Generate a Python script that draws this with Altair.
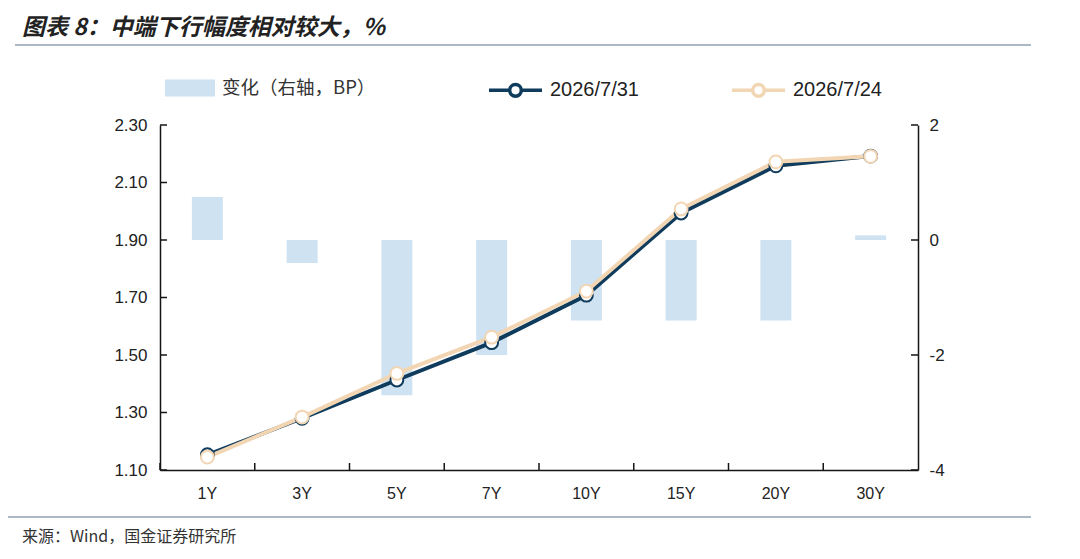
import altair as alt
import pandas as pd

# ---- data ----
tenors = ["1Y", "3Y", "5Y", "7Y", "10Y", "15Y", "20Y", "30Y"]
yield_0731 = [1.153, 1.280, 1.413, 1.543, 1.708, 1.994, 2.158, 2.192]
yield_0724 = [1.145, 1.284, 1.436, 1.562, 1.722, 2.008, 2.172, 2.191]
change_bp = [0.75, -0.40, -2.70, -2.00, -1.40, -1.40, -1.40, 0.08]
series_names = ["2026/7/31", "2026/7/24"]
bar_name = "变化（右轴，BP）"
left_ticks = [1.10, 1.30, 1.50, 1.70, 1.90, 2.10, 2.30]
right_ticks = [-4, -2, 0, 2]
title_text = "图表 8：中端下行幅度相对较大，%"
source_text = "来源：Wind，国金证券研究所"

DARK = "#0f3b5c"
BEIGE = "#f2d6b4"
BAR = "#cfe2f1"
AXC = "#151515"
W, H = 758, 345

df_bar = pd.DataFrame({"tenor": tenors, "chg": change_bp, "name": [bar_name] * len(tenors)})
df_line = pd.DataFrame({
    "tenor": tenors * 2,
    "y": yield_0731 + yield_0724,
    "series": [series_names[0]] * len(tenors) + [series_names[1]] * len(tenors),
})
df_lt = pd.DataFrame({"v": left_ticks})
df_rt = pd.DataFrame({"v": right_ticks})
df_ten = pd.DataFrame({"tenor": tenors})

x_scale = alt.Scale(domain=tenors, paddingInner=0, paddingOuter=0)
x_axis = alt.Axis(title=None, labelAngle=0, labelFont="Liberation Sans", labelFontSize=16,
                  labelColor="#222", labelPadding=15, ticks=False, tickSize=0,
                  domainColor=AXC, domainWidth=1.5, grid=False)
x_enc = alt.X("tenor:N", scale=x_scale, sort=tenors, axis=x_axis)

yl_scale = alt.Scale(domain=[1.1, 2.3], nice=False, zero=False)
yl_axis = alt.Axis(title=None, orient="left", values=left_ticks, format=".2f",
                   labelFont="Liberation Sans", labelFontSize=17, labelColor="#222",
                   labelPadding=13, ticks=False, tickSize=0, domainColor=AXC,
                   domainWidth=1.5, grid=False)
yr_scale = alt.Scale(domain=[-4, 2], nice=False, zero=False)
yr_axis = alt.Axis(title=None, orient="right", values=right_ticks, labelExpr="'' + datum.value",
                   labelFont="Liberation Sans", labelFontSize=17, labelColor="#222",
                   labelPadding=11, ticks=False, tickSize=0, domainColor=AXC,
                   domainWidth=1.5, grid=False)

LINE_SYM = ("M-1,0L-0.22,0M0.22,0L1,0M0.22,0A0.22,0.22,0,1,1,-0.22,0"
            "A0.22,0.22,0,1,1,0.22,0Z")
stroke_legend = alt.Legend(title=None, orient="none", legendX=327, legendY=-63.5,
                           direction="horizontal", symbolType=LINE_SYM, symbolSize=2809,
                           symbolStrokeWidth=3.5, symbolFillColor="white",
                           labelFont="Liberation Sans", labelFontSize=20, labelColor="#222",
                           labelOffset=6, columnPadding=86, padding=0)
stroke_enc = alt.Stroke("series:N", scale=alt.Scale(domain=series_names, range=[DARK, BEIGE]),
                        legend=stroke_legend)

fill_legend = alt.Legend(title=None, orient="none", legendX=5, legendY=-62,
                         direction="horizontal", symbolType="M-1,-0.34L1,-0.34L1,0.34L-1,0.34Z",
                         symbolSize=2500, symbolStrokeWidth=0, labelFont="Noto Sans CJK SC",
                         labelFontSize=18.5, labelColor="#333", labelOffset=7, padding=0)

# ---- bars (right axis) ----
bars = alt.Chart(df_bar).mark_bar(size=31).encode(
    x=x_enc,
    y=alt.Y("chg:Q", scale=yr_scale, axis=yr_axis),
    fill=alt.Fill("name:N", scale=alt.Scale(domain=[bar_name], range=[BAR]), legend=fill_legend),
)
rticks = alt.Chart(df_rt).mark_rule(color=AXC, strokeWidth=1.5).encode(
    y=alt.Y("v:Q", scale=yr_scale, axis=yr_axis),
    x=alt.value(W - 7), x2=alt.value(W),
)
bars_group = alt.layer(bars, rticks)

# ---- lines (left axis) ----
line_dark = alt.Chart(df_line).transform_filter(
    alt.datum.series == series_names[0]).mark_line(strokeWidth=4).encode(
    x=x_enc, y=alt.Y("y:Q", scale=yl_scale, axis=yl_axis), stroke=stroke_enc)
line_beige = alt.Chart(df_line).transform_filter(
    alt.datum.series == series_names[1]).mark_line(strokeWidth=4).encode(
    x=x_enc, y=alt.Y("y:Q", scale=yl_scale, axis=yl_axis), stroke=stroke_enc)
points = alt.Chart(df_line).mark_point(shape="circle", size=165, strokeWidth=2,
                                       filled=True, fill="white", opacity=1).encode(
    x=x_enc, y=alt.Y("y:Q", scale=yl_scale, axis=yl_axis), stroke=stroke_enc)
lticks = alt.Chart(df_lt).mark_rule(color=AXC, strokeWidth=1.5).encode(
    y=alt.Y("v:Q", scale=yl_scale, axis=yl_axis),
    x=alt.value(0), x2=alt.value(7),
)
xticks = alt.Chart(df_ten).mark_rule(color=AXC, strokeWidth=1.5).encode(
    x=alt.X("tenor:N", scale=x_scale, sort=tenors, axis=x_axis, bandPosition=0),
    y=alt.value(H - 7), y2=alt.value(H),
)

# ---- decorations ----
title_mark = alt.Chart(pd.DataFrame({"t": [title_text]})).mark_text(
    align="left", baseline="alphabetic", font="Noto Sans CJK SC", fontSize=23,
    fontWeight="bold", fontStyle="italic", color="#222").encode(
    x=alt.value(-138), y=alt.value(-90), text="t:N")
source_mark = alt.Chart(pd.DataFrame({"t": [source_text]})).mark_text(
    align="left", baseline="alphabetic", font="Noto Sans CJK SC", fontSize=16,
    color="#333").encode(x=alt.value(-138), y=alt.value(417), text="t:N")
top_rule = alt.Chart(pd.DataFrame({"a": [0]})).mark_rule(color="#8ea2b2", strokeWidth=1.5).encode(
    x=alt.value(-145), x2=alt.value(871), y=alt.value(-80))
bot_rule = alt.Chart(pd.DataFrame({"a": [0]})).mark_rule(color="#8ea2b2", strokeWidth=1.5).encode(
    x=alt.value(-152), x2=alt.value(871), y=alt.value(392))

lines_group = alt.layer(line_dark, line_beige, points, lticks, xticks,
                        title_mark, source_mark, top_rule, bot_rule)

chart = alt.layer(bars_group, lines_group).resolve_scale(y="independent").properties(
    width=W, height=H,
    autosize=alt.AutoSizeParams(type="none"),
    padding={"left": 152, "top": 117, "right": 154, "bottom": 78},
    background="white",
).configure_view(stroke=None)

chart.save("out.html", embed_options={"renderer": "svg", "actions": False})
